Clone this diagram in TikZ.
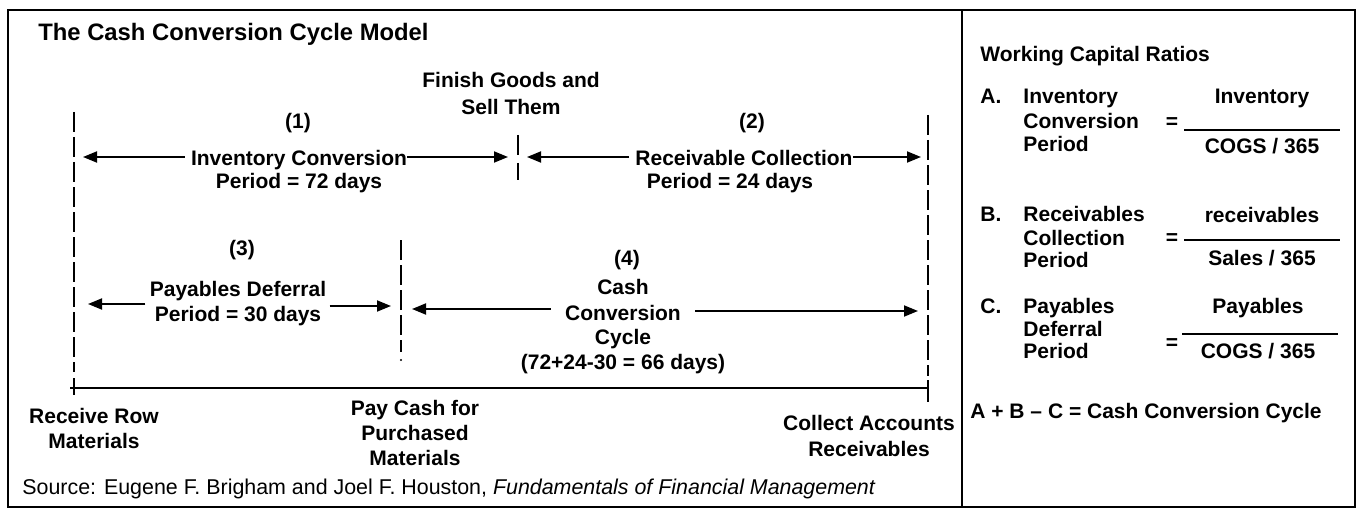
\documentclass[tikz,border=0pt]{standalone}
\usepackage{fontspec}
\setmainfont{Liberation Sans}
\usetikzlibrary{arrows.meta}
\begin{document}
\begin{tikzpicture}[x=0.5pt,y=-0.5pt,
  lbl/.style={font=\bfseries\fontsize{10.5}{12}\selectfont, inner sep=0pt, anchor=base},
  lblw/.style={lbl, anchor=base west},
  ttl/.style={font=\bfseries\fontsize{11.9}{13}\selectfont, inner sep=0pt, anchor=base west},
  src/.style={font=\fontsize{10.7}{12}\selectfont, inner sep=0pt, anchor=base west},
  arr/.style={-{Triangle[length=7pt,width=5.5pt]}, line width=0.9pt},
  dl/.style={line width=1pt, dash pattern=on 10pt off 2.5pt},
  tick/.style={line width=1pt},
  frame/.style={line width=1.1pt},
  fbar/.style={line width=0.8pt}]
\useasboundingbox (0,0) rectangle (1360,524);
\fill[white] (0,0) rectangle (1360,524);
% frame
\draw[frame] (8,10) rectangle (1355,507);
\draw[frame] (962,10) -- (962,507);
% title
\node[ttl] (title) at (38,41) {The Cash Conversion Cycle Model};
\node[lbl] (fin1) at (511,88) {Finish Goods and};
\node[lbl] (fin2) at (511,115) {Sell Them};
% vertical markers
\coordinate (LT) at (74,112); \coordinate (LD) at (74,372);
\coordinate (LK1) at (74,378); \coordinate (LK2) at (74,395);
\coordinate (RT) at (928,115); \coordinate (RD) at (928,376);
\coordinate (RK1) at (928,380); \coordinate (RK2) at (928,402);
\draw[dl] (LT) -- (LD);
\draw[tick] (LK1) -- (LK2);
\draw[dl] (RT) -- (RD);
\draw[tick] (RK1) -- (RK2);
\coordinate (TL) at (70,388); \coordinate (TR) at (928,388);
\draw[line width=1pt] (TL) -- (TR);
\coordinate (M1a) at (518,135); \coordinate (M1b) at (518,155);
\coordinate (M1c) at (518,163); \coordinate (M1d) at (518,180);
\draw[tick] (M1a) -- (M1b); \draw[tick] (M1c) -- (M1d);
\coordinate (M2a) at (401,240); \coordinate (M2b) at (401,352); \coordinate (M2dot) at (401,360);
\draw[dl] (M2a) -- (M2b);
\fill (M2dot) circle (1.2);
% (1)
\node[lbl] (n1) at (298,128) {(1)};
\node[lbl] (t1) at (299,165) {Inventory Conversion};
\node[lbl] (p1) at (299,188) {Period = 72 days};
\coordinate (L1) at (83,157); \coordinate (R1) at (508,157);
\draw[arr, shorten <=3pt] (L1 -| t1.west) -- (L1);
\draw[arr] (R1 -| t1.east) -- (R1);
% (2)
\node[lbl] (n2) at (752,128) {(2)};
\node[lbl] (t2) at (744,165) {Receivable Collection};
\node[lbl] (p2) at (730,189) {Period = 24 days};
\coordinate (L2) at (527,157); \coordinate (R2) at (921,157);
\draw[arr, shorten <=3pt] (L2 -| t2.west) -- (L2);
\draw[arr] (R2 -| t2.east) -- (R2);
% (3)
\node[lbl] (n3) at (242,255) {(3)};
\node[lbl] (t3) at (238,296) {Payables Deferral};
\node[lbl] (p3) at (238,321) {Period = 30 days};
\coordinate (L3) at (88,304); \coordinate (R3) at (391,306);
\draw[arr, shorten <=2pt] (L3 -| t3.west) -- (L3);
\draw[arr, shorten <=4pt] (R3 -| p3.east) -- (R3);
% (4)
\node[lbl] (n4) at (627,265) {(4)};
\node[lbl] (c4a) at (623,294) {Cash};
\node[lbl] (c4b) at (623,320) {Conversion};
\node[lbl] (c4c) at (623,344) {Cycle};
\node[lbl] (c4d) at (623,369) {(72+24-30 = 66 days)};
\coordinate (L4) at (412,309); \coordinate (R4) at (918,311);
\draw[arr, shorten <=7pt] (L4 -| c4b.west) -- (L4);
\draw[arr, shorten <=7pt] (R4 -| c4b.east) -- (R4);
% bottom labels
\node[lbl] (rr1) at (94,423) {Receive Row};
\node[lbl] (rr2) at (94,448) {Materials};
\node[lbl] (pc1) at (415,415) {Pay Cash for};
\node[lbl] (pc2) at (415,440) {Purchased};
\node[lbl] (pc3) at (415,465) {Materials};
\node[lbl] (ca1) at (869,430) {Collect Accounts};
\node[lbl] (ca2) at (869,456) {Receivables};
\node[src] (source) at (22,494) {Source: Eugene F. Brigham and Joel F. Houston, \textit{Fundamentals of Financial Management}};
% right panel
\node[lblw] (wcr) at (980,62) {Working Capital Ratios};
% A
\node[lblw] (Aa) at (980,104) {A.};
\node[lblw] (A1) at (1023,104) {Inventory};
\node[lblw] (A2) at (1023,128) {Conversion};
\node[lblw] (A3) at (1023,152) {Period};
\node[lbl] (Aeq) at (1172,129) {=};
\coordinate (Ab1) at (1184,130); \coordinate (Ab2) at (1340,130);
\draw[fbar] (Ab1) -- (Ab2);
\node[lbl] (Anum) at (1262,104) {Inventory};
\node[lbl] (Aden) at (1262,154) {COGS / 365};
% B
\node[lblw] (Ba) at (980,221) {B.};
\node[lblw] (B1) at (1023,221) {Receivables};
\node[lblw] (B2) at (1023,245) {Collection};
\node[lblw] (B3) at (1023,267) {Period};
\node[lbl] (Beq) at (1172,244) {=};
\coordinate (Bb1) at (1184,240); \coordinate (Bb2) at (1340,240);
\draw[fbar] (Bb1) -- (Bb2);
\node[lbl] (Bnum) at (1262,222) {receivables};
\node[lbl] (Bden) at (1262,265) {Sales / 365};
% C
\node[lblw] (Ca) at (980,313) {C.};
\node[lblw] (C1) at (1023,313) {Payables};
\node[lblw] (C2) at (1023,336) {Deferral};
\node[lblw] (C3) at (1023,358) {Period};
\node[lbl] (Ceq) at (1172,349) {=};
\coordinate (Cb1) at (1182,334); \coordinate (Cb2) at (1338,334);
\draw[fbar] (Cb1) -- (Cb2);
\node[lbl] (Cnum) at (1258,313) {Payables};
\node[lbl] (Cden) at (1258,358) {COGS / 365};
\node[lblw] (sum) at (970,418) {A + B – C = Cash Conversion Cycle};
\end{tikzpicture}
\end{document}
